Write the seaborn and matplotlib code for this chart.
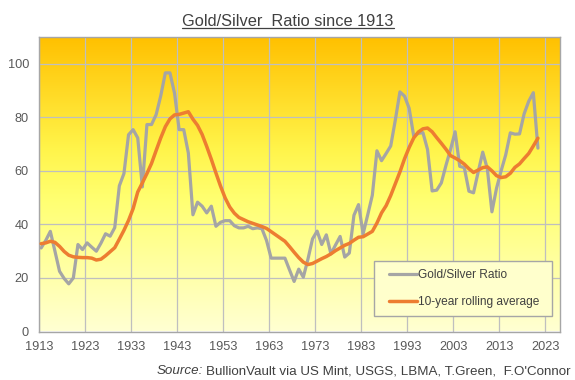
import numpy as np
import pandas as pd
import matplotlib
matplotlib.use("Agg")
import matplotlib.pyplot as plt
import seaborn as sns
from matplotlib.colors import LinearSegmentedColormap
from matplotlib.patches import Rectangle
from matplotlib.lines import Line2D

# ---------------- data ----------------
years = np.arange(1913, 2022)

gold_silver_ratio = [
    31.2, 34.0, 37.4, 30.0, 22.5, 19.8, 17.8, 20.0, 32.5, 30.6,   # 1913-1922
    33.1, 31.5, 30.0, 33.0, 36.5, 35.6, 38.8, 54.4, 59.0, 73.5,   # 1923-1932
    75.4, 72.3, 54.0, 77.3, 77.3, 81.0, 88.0, 96.6, 96.6, 89.0,   # 1933-1942
    75.4, 75.4, 66.7, 43.6, 48.3, 46.8, 44.3, 46.8, 39.3, 40.8,   # 1943-1952
    41.4, 41.4, 39.5, 38.7, 38.7, 39.3, 38.4, 38.7, 38.4, 34.0,   # 1953-1962
    27.4, 27.4, 27.4, 27.4, 23.0, 18.7, 23.3, 20.3, 27.0, 34.6,   # 1963-1972
    37.5, 32.5, 36.1, 29.0, 32.3, 35.5, 27.8, 29.3, 43.4, 47.4,   # 1973-1982
    36.5, 43.6, 50.9, 67.5, 63.8, 66.5, 69.3, 79.0, 89.5, 87.9,   # 1983-1992
    83.4, 73.0, 74.0, 74.3, 68.0, 52.5, 52.8, 55.5, 62.0, 68.0,   # 1993-2002
    74.6, 61.7, 61.2, 52.4, 51.8, 59.5, 67.0, 60.8, 44.7, 53.5,   # 2003-2012
    60.0, 66.0, 74.2, 73.7, 73.8, 81.3, 86.0, 89.2, 68.5,         # 2013-2021
]

rolling_avg_10y = [
    32.8, 33.1, 33.7, 33.3, 31.8, 29.9, 28.5, 27.9, 27.7, 27.6,
    27.6, 27.4, 26.7, 27.0, 28.3, 29.8, 31.3, 34.5, 37.8, 41.5,
    45.9, 52.1, 55.5, 59.0, 62.8, 67.6, 72.3, 76.5, 79.4, 80.9,
    81.1, 81.6, 82.1, 79.3, 77.0, 73.6, 69.1, 64.3, 59.2, 54.3,
    49.9, 46.5, 44.2, 42.6, 41.8, 41.0, 40.4, 39.8, 39.2, 38.5,
    37.3, 36.1, 34.9, 33.7, 31.7, 29.6, 27.6, 25.9, 25.0, 25.4,
    26.3, 27.2, 28.0, 29.0, 30.2, 31.2, 32.2, 32.9, 34.1, 35.2,
    35.4, 36.4, 37.4, 40.5, 44.3, 47.0, 50.8, 55.2, 59.6, 64.5,
    68.7, 72.3, 74.5, 75.7, 76.0, 74.6, 72.4, 70.3, 68.1, 65.7,
    64.8, 63.8, 62.5, 60.8, 59.4, 60.3, 61.2, 61.5, 60.0, 58.2,
    57.5, 57.8, 59.1, 61.3, 62.6, 64.6, 66.5, 69.3, 72.2,
]

series_labels = ["Gold/Silver Ratio", "10-year rolling average"]
x_tick_years = list(range(1913, 2024, 10))
y_ticks = [0, 20, 40, 60, 80, 100]
title_text = "Gold/Silver  Ratio since 1913"
source_label = "Source:"
source_rest = "BullionVault via US Mint, USGS, LBMA, T.Green,  F.O'Connor"

df = pd.DataFrame({
    "pos": years + 0.4,          # annual values plotted mid-year
    "ratio": gold_silver_ratio,
    "avg": rolling_avg_10y,
})

# ---------------- style ----------------
sns.set_style("white")
plt.rcParams["font.family"] = ["Liberation Sans", "DejaVu Sans"]

fig = plt.figure(figsize=(5.75, 3.8), dpi=100)
ax = fig.add_axes([39.3 / 575, (380 - 331.5) / 380, (560 - 39.3) / 575, (331.5 - 37) / 380])

# gradient background
cmap = LinearSegmentedColormap.from_list(
    "bg", [(0.0, "#FFFFD2"), (0.45, "#FFFF70"), (0.62, "#FFF44A"), (1.0, "#FFC000")])
grad = np.linspace(0, 1, 256).reshape(-1, 1)
ax.imshow(grad, cmap=cmap, aspect="auto", origin="lower",
          extent=[0, 1, 0, 1], transform=ax.transAxes, zorder=0)

sns.lineplot(data=df, x="pos", y="ratio", ax=ax, color="#A5A5A5",
             linewidth=2.3, label=series_labels[0], zorder=3, legend=False)
sns.lineplot(data=df, x="pos", y="avg", ax=ax, color="#ED7D31",
             linewidth=2.5, label=series_labels[1], zorder=4, legend=False)

ax.set_xlim(1913, 2026.2)
ax.set_ylim(0, 110)
ax.set_xticks(x_tick_years)
ax.set_yticks(y_ticks)
ax.set_xlabel("")
ax.set_ylabel("")
ax.grid(True, color="#BFBFBF", linewidth=0.9, zorder=1)
for gl in ax.get_xgridlines() + ax.get_ygridlines():
    gl.set_zorder(1)
for s in ax.spines.values():
    s.set_color("#A6A6A6")
    s.set_linewidth(1.0)
ax.tick_params(axis="both", which="both", direction="out", length=3.5,
               width=0.9, color="#A6A6A6", labelsize=9.2, labelcolor="#595959")
ax.tick_params(axis="x", pad=3.5)
ax.tick_params(axis="y", pad=4.0)

# legend with manual frame
frame = Rectangle((0.6427, 0.0526), 0.3413, 0.1878, transform=ax.transAxes,
                  facecolor="#FFFFCC", edgecolor="#A6A6A6", linewidth=1.0, zorder=5)
ax.add_patch(frame)
handles, labels = ax.get_legend_handles_labels()
leg = ax.legend(handles, labels, loc="center left", bbox_to_anchor=(0.6716, 0.1464),
                frameon=False, borderpad=0, borderaxespad=0, fontsize=8.6,
                handlelength=2.33, handletextpad=0.1, labelspacing=1.25)
leg.set_zorder(6)
for t in leg.get_texts():
    t.set_color("#404040")

# title with underline
title = fig.text(288 / 575, (380 - 26) / 380, title_text, ha="center", va="baseline",
                 fontsize=11.8, color="#404040")

# source
src = fig.text(571 / 575, 6 / 380, source_rest, ha="right", va="baseline",
               fontsize=9.6, color="#404040")

fig.canvas.draw()
r = fig.canvas.get_renderer()
bb = title.get_window_extent(r)
uy = (380 - 28.4) / 380
fig.add_artist(Line2D([bb.x0 / fig.bbox.width, bb.x1 / fig.bbox.width], [uy, uy],
                      transform=fig.transFigure, color="#404040", linewidth=0.9))
sbb = src.get_window_extent(r)
fig.text((sbb.x0 - 3) / fig.bbox.width, 6 / 380, source_label, ha="right", va="baseline",
         fontsize=9.6, color="#404040", style="italic")

fig.savefig("out.png", dpi=100)
